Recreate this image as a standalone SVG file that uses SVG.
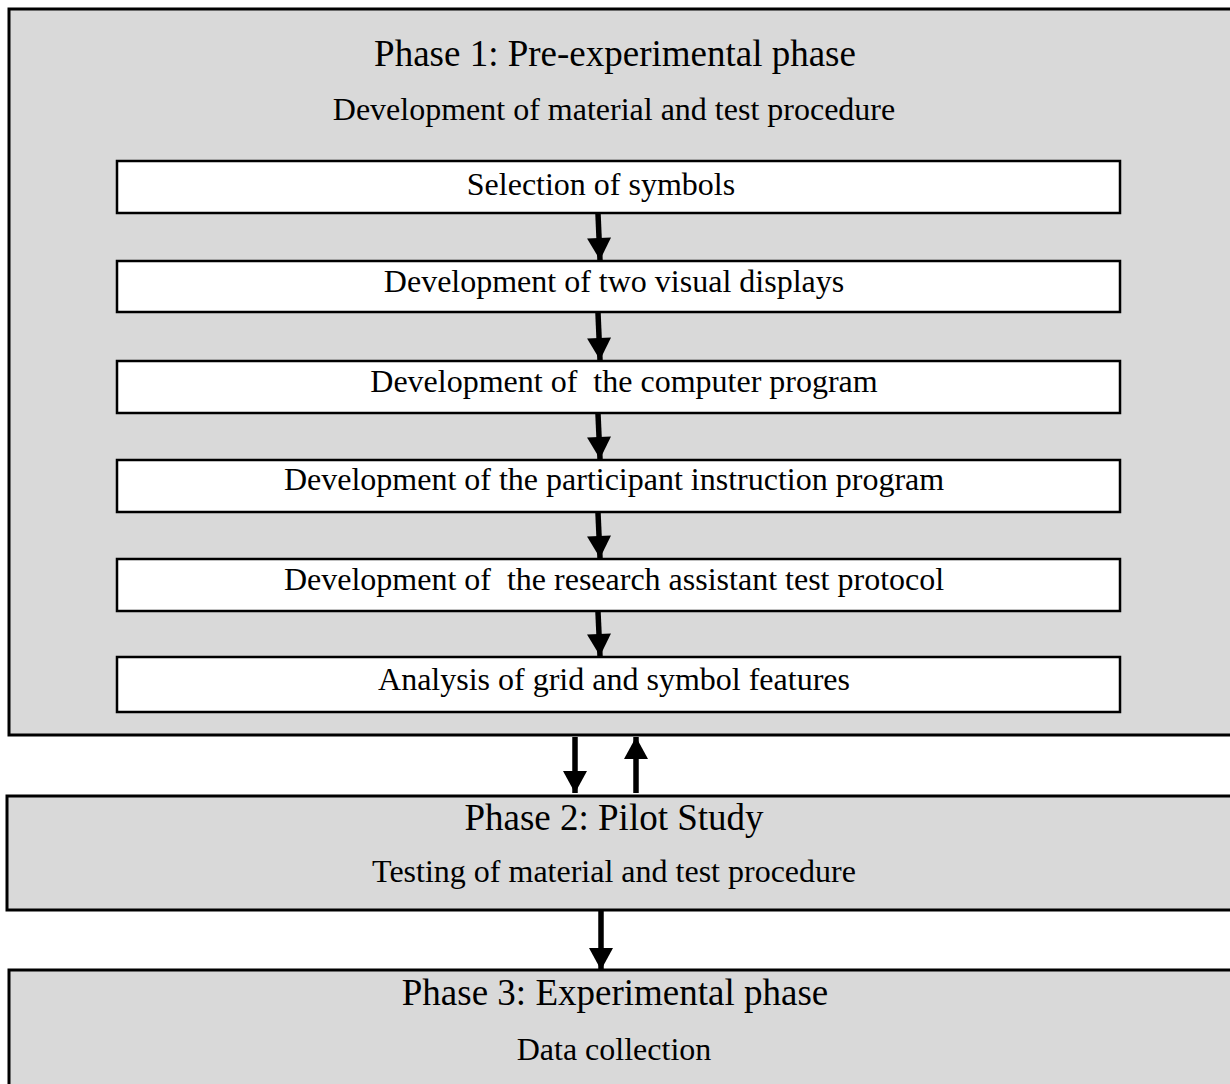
<svg xmlns="http://www.w3.org/2000/svg" width="1230" height="1084" viewBox="0 0 1230 1084">
  <defs>
    <style>
      .phase { fill: #d9d9d9; stroke: #000; stroke-width: 3; }
      .step { fill: #fff; stroke: #000; stroke-width: 2.5; }
      .title { font-family: "Liberation Serif", "Times New Roman", serif; font-size: 37px; fill: #000; text-anchor: middle; }
      .sub { font-family: "Liberation Serif", "Times New Roman", serif; font-size: 32px; fill: #000; text-anchor: middle; white-space: pre; }
      .conn line { stroke: #000; stroke-width: 5.5; }
    </style>
    <marker id="ah" markerUnits="userSpaceOnUse" markerWidth="24" markerHeight="24" refX="22" refY="12" orient="auto" viewBox="0 0 22 24">
      <path d="M0,0 L22,12 L0,24 Z" fill="#000"/>
    </marker>
  </defs>

  <g id="phase1">
    <rect class="phase" x="9" y="9" width="1240" height="726"/>
    <text class="title" x="615" y="66">Phase 1: Pre-experimental phase</text>
    <text class="sub" x="614" y="120">Development of material and test procedure</text>
  </g>
  <g id="step1">
    <rect class="step" x="117" y="161" width="1003" height="52"/>
    <text class="sub" x="601" y="195">Selection of symbols</text>
  </g>
  <g id="step2">
    <rect class="step" x="117" y="261" width="1003" height="51"/>
    <text class="sub" x="614" y="292">Development of two visual displays</text>
  </g>
  <g id="step3">
    <rect class="step" x="117" y="361" width="1003" height="52"/>
    <text class="sub" x="624" y="392" xml:space="preserve">Development of  the computer program</text>
  </g>
  <g id="step4">
    <rect class="step" x="117" y="460" width="1003" height="52"/>
    <text class="sub" x="614" y="490">Development of the participant instruction program</text>
  </g>
  <g id="step5">
    <rect class="step" x="117" y="559" width="1003" height="52"/>
    <text class="sub" x="614" y="590" xml:space="preserve">Development of  the research assistant test protocol</text>
  </g>
  <g id="step6">
    <rect class="step" x="117" y="657" width="1003" height="55"/>
    <text class="sub" x="614" y="690">Analysis of grid and symbol features</text>
  </g>
  <g id="phase2">
    <rect class="phase" x="7" y="796" width="1240" height="114"/>
    <text class="title" x="614" y="830">Phase 2: Pilot Study</text>
    <text class="sub" x="614" y="882">Testing of material and test procedure</text>
  </g>
  <g id="phase3">
    <rect class="phase" x="9" y="970" width="1240" height="140"/>
    <text class="title" x="615" y="1005">Phase 3: Experimental phase</text>
    <text class="sub" x="614" y="1060">Data collection</text>
  </g>

  <g id="connectors" class="conn">
    <line x1="598" y1="214" x2="600" y2="260" marker-end="url(#ah)"/>
    <line x1="598" y1="313" x2="600" y2="360" marker-end="url(#ah)"/>
    <line x1="598" y1="414" x2="600" y2="459" marker-end="url(#ah)"/>
    <line x1="598" y1="513" x2="600" y2="558" marker-end="url(#ah)"/>
    <line x1="598" y1="612" x2="600" y2="656" marker-end="url(#ah)"/>
    <line x1="575" y1="737" x2="575" y2="793" marker-end="url(#ah)"/>
    <line x1="636" y1="793" x2="636" y2="737" marker-end="url(#ah)"/>
    <line x1="601" y1="911" x2="601" y2="970" marker-end="url(#ah)"/>
  </g>
</svg>
